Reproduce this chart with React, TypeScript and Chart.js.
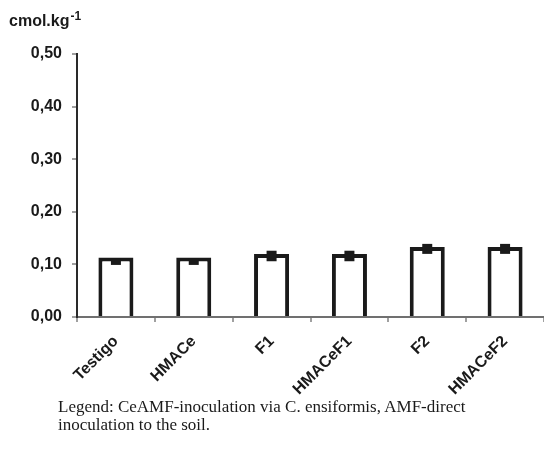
import React, { useEffect, useRef } from "react";
import { Chart, registerables } from "chart.js";

Chart.register(...registerables);

const categories = ["Testigo", "HMACe", "F1", "HMACeF1", "F2", "HMACeF2"];
const values = [0.113, 0.113, 0.12, 0.12, 0.133, 0.133];
const errLow = [0.099, 0.099, 0.106, 0.106, 0.12, 0.12];
const errHigh = [0.112, 0.112, 0.126, 0.126, 0.139, 0.139];
const yTicks = [0, 0.1, 0.2, 0.3, 0.4, 0.5];

const errorPlugin = {
  id: "errMarks",
  afterDatasetsDraw(chart: any) {
    const ctx = chart.ctx;
    const meta = chart.getDatasetMeta(0);
    const y = chart.scales.y;
    ctx.save();
    ctx.fillStyle = "#1a1a1a";
    meta.data.forEach((bar: any, i: number) => {
      const top = y.getPixelForValue(errHigh[i]);
      const bot = y.getPixelForValue(errLow[i]);
      ctx.fillRect(bar.x - 5, top, 10, bot - top);
    });
    ctx.restore();
  },
};

const titlePlugin = {
  id: "unitTitle",
  afterDraw(chart: any) {
    const ctx = chart.ctx;
    ctx.save();
    ctx.fillStyle = "#1a1a1a";
    ctx.textBaseline = "alphabetic";
    ctx.textAlign = "left";
    ctx.font = "bold 16px 'Liberation Sans', Arial, sans-serif";
    ctx.fillText("cmol.kg", 9, 26);
    const w = ctx.measureText("cmol.kg").width;
    ctx.font = "bold 12px 'Liberation Sans', Arial, sans-serif";
    ctx.fillText("-1", 9 + w + 1, 20);
    ctx.restore();
  },
};

export default function App() {
  const ref = useRef<HTMLCanvasElement>(null);
  useEffect(() => {
    const chart = new Chart(ref.current!, {
      type: "bar",
      data: {
        labels: categories,
        datasets: [
          {
            data: values,
            backgroundColor: "#ffffff",
            borderColor: "#1a1a1a",
            borderWidth: 4,
            borderSkipped: "bottom",
            barPercentage: 0.45,
            categoryPercentage: 1,
          },
        ],
      },
      options: {
        animation: false,
        responsive: false,
        maintainAspectRatio: false,
        layout: { padding: { top: 54, left: 0, right: 0, bottom: 0 } },
        plugins: { legend: { display: false }, tooltip: { enabled: false } },
        scales: {
          x: {
            offset: true,
            afterFit: (s: any) => {
              s.height = 144;
            },
            grid: {
              offset: true,
              drawOnChartArea: false,
              drawTicks: true,
              tickLength: 5,
              color: "#a0a0a0",
              lineWidth: 2,
            },
            border: { display: true, color: "#707070", width: 2 },
            ticks: {
              maxRotation: 45,
              minRotation: 45,
              autoSkip: false,
              padding: 10,
              color: "#1a1a1a",
              font: { family: "'Liberation Sans', Arial, sans-serif", size: 16, weight: "bold" },
            },
          },
          y: {
            min: 0,
            max: 0.5,
            afterFit: (s: any) => {
              s.width = 77;
            },
            afterBuildTicks: (s: any) => {
              s.ticks = yTicks.map((v) => ({ value: v }));
            },
            grid: {
              drawOnChartArea: false,
              drawTicks: true,
              tickLength: 5,
              color: "#a0a0a0",
              lineWidth: 2,
            },
            border: { display: true, color: "#2a2a2a", width: 2 },
            ticks: {
              padding: 10,
              color: "#1a1a1a",
              font: { family: "'Liberation Sans', Arial, sans-serif", size: 16, weight: "bold" },
              callback: (v: any) => Number(v).toFixed(2).replace(".", ","),
            },
          },
        },
      },
      plugins: [errorPlugin, titlePlugin],
    } as any);
    return () => chart.destroy();
  }, []);

  return (
    <div style={{ position: "absolute", left: 0, top: 0, width: 544, height: 461, overflow: "hidden", background: "#fff" }}>
      <canvas ref={ref} width={544} height={461} style={{ position: "absolute", left: 0, top: 0 }} />
      <div
        style={{
          position: "absolute",
          left: 58,
          top: 398,
          width: 480,
          whiteSpace: "nowrap",
          fontFamily: "'Liberation Serif', 'Times New Roman', serif",
          fontSize: 17,
          lineHeight: "18px",
          color: "#1a1a1a",
        }}
      >
        Legend: CeAMF-inoculation via C. ensiformis, AMF-direct
        <br />
        inoculation to the soil.
      </div>
    </div>
  );
}
